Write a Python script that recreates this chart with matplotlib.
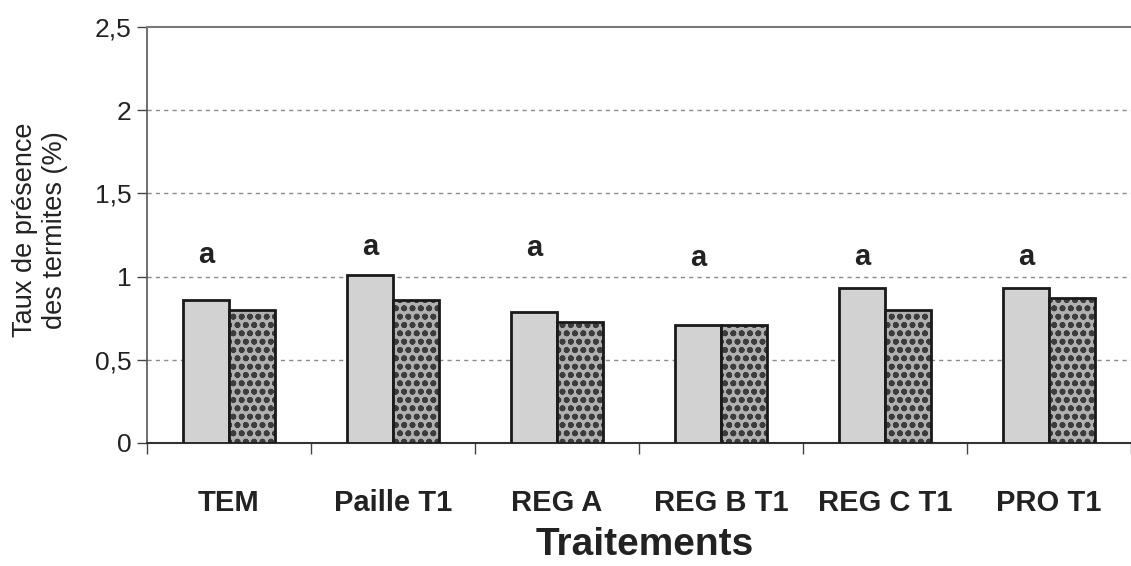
import numpy as np
import matplotlib
matplotlib.use("Agg")
import matplotlib.pyplot as plt

plt.rcParams["font.family"] = ["Liberation Sans", "DejaVu Sans"]
plt.rcParams["hatch.linewidth"] = 1.8

# data
traitements = ["TEM", "Paille T1", "REG A", "REG B T1", "REG C T1", "PRO T1"]
serie_claire = [0.86, 1.01, 0.79, 0.71, 0.93, 0.93]
serie_foncee = [0.80, 0.86, 0.73, 0.71, 0.80, 0.87]
lettres = ["a", "a", "a", "a", "a", "a"]
hauteur_lettres = [1.13, 1.18, 1.17, 1.11, 1.115, 1.115]
yticks = [0, 0.5, 1, 1.5, 2, 2.5]
ytick_labels = ["0", "0,5", "1", "1,5", "2", "2,5"]


def main():
    fig = plt.figure(figsize=(11.31, 5.66), dpi=100)
    ax = fig.add_axes([147 / 1131, 123 / 566, 984 / 1131, 416 / 566])

    x = np.arange(len(traitements))
    w = 0.283

    # light bars
    ax.bar(x - w / 2, serie_claire, width=w, color="#d2d2d2",
           edgecolor="#1a1a1a", linewidth=2, zorder=3)

    # dark mottled bars: hatch first, outline on top
    ax.bar(x + w / 2, serie_foncee, width=w, color="#b0b0b0",
           edgecolor="#3c3c3c", hatch="oo", linewidth=0, zorder=3)
    ax.bar(x + w / 2, serie_foncee, width=w, fill=False,
           edgecolor="#1a1a1a", linewidth=2, zorder=4)

    for xi, txt, h in zip(x, lettres, hauteur_lettres):
        ax.text(xi - w / 2, h, txt, ha="center", va="center",
                fontsize=21, fontweight="bold", color="#222222")

    ax.set_xlim(-0.5, -0.5 + 984 / 166)
    ax.set_ylim(0, 2.5)

    ax.set_yticks(yticks)
    ax.set_yticklabels(ytick_labels, fontsize=19, color="#222222")
    ax.tick_params(axis="y", length=7, width=1, pad=4, color="#444444")

    ax.set_xticks(np.arange(-0.5, len(traitements), 1.0))
    ax.set_xticklabels([])
    ax.tick_params(axis="x", which="major", length=8, width=1, color="#444444")
    ax.set_xticks(x, minor=True)
    ax.set_xticklabels(traitements, minor=True, fontsize=21,
                       fontweight="bold", color="#222222")
    ax.tick_params(axis="x", which="minor", length=0, pad=33)

    for g in yticks[1:-1]:
        ax.axhline(g, color="#8a8a8a", linestyle=(0, (3, 3)),
                   linewidth=1, zorder=1)

    ax.spines["right"].set_visible(False)
    ax.spines["top"].set_color("#7a7a7a")
    ax.spines["top"].set_linewidth(1.5)
    ax.spines["left"].set_color("#555555")
    ax.spines["left"].set_linewidth(1.2)
    ax.spines["bottom"].set_color("#333333")
    ax.spines["bottom"].set_linewidth(1.5)

    fig.text(40 / 1131, 1 - 230 / 566,
             "Taux de présence\ndes termites (%)",
             rotation=90, ha="center", va="center", fontsize=19.5,
             color="#222222", multialignment="center", linespacing=1.15)

    fig.text(645 / 1131, 1 - 545 / 566, "Traitements", ha="center",
             va="center", fontsize=28, fontweight="bold", color="#222222")

    fig.savefig("out.png", dpi=100, facecolor="white")


if __name__ == "__main__":
    main()
